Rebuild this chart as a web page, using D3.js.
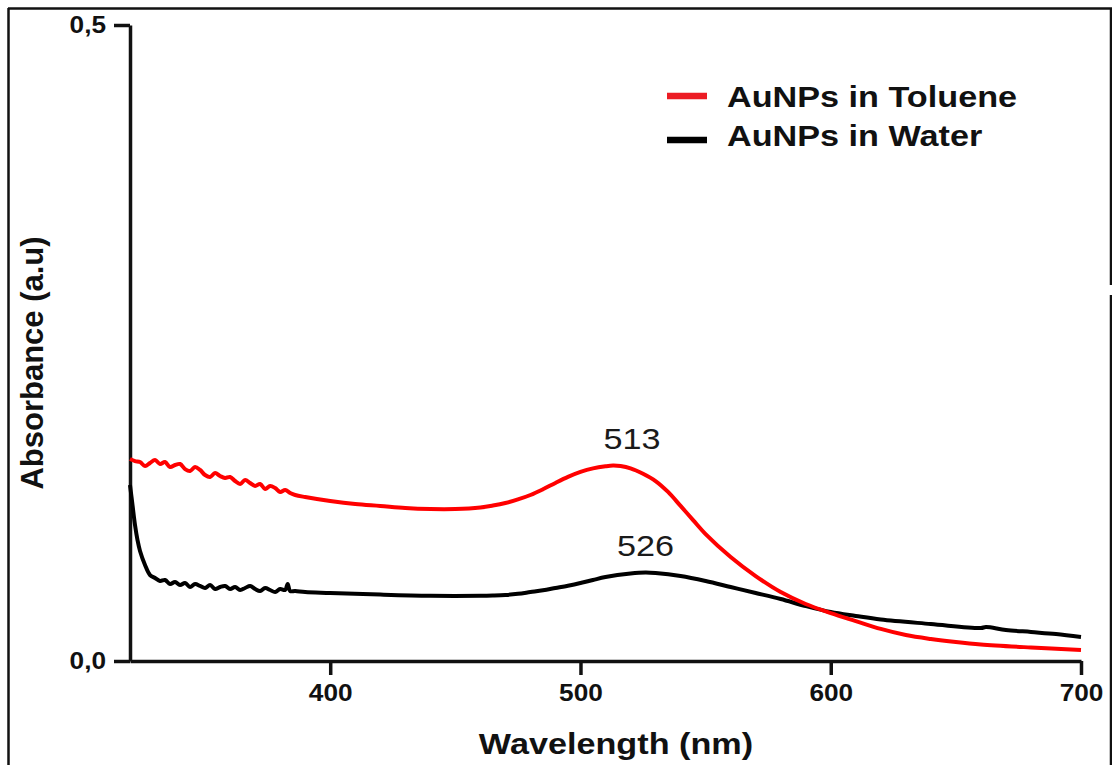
<!DOCTYPE html>
<html>
<head>
<meta charset="utf-8">
<script src="https://cdn.jsdelivr.net/npm/d3@7"></script>
<style>
  body { margin: 0; background: #fff; }
  text { font-family: "Liberation Sans", Arial, sans-serif; }
</style>
</head>
<body>
<div id="chart"></div>
<script>
// wavelength (nm) and absorbance for each sample
const tolueneNm = [320, 322, 324, 326, 328, 330, 332, 334, 336, 338, 340, 342, 344, 346, 348, 350,
    352, 354, 356, 358, 360, 362, 364, 366, 368, 370, 372, 374, 376, 378, 380, 382, 384, 386, 390,
    400, 410, 420, 430, 440, 450, 460, 465, 470, 475, 480, 485, 490, 495, 500, 505, 510, 513, 516,
    520, 525, 530, 535, 540, 545, 550, 560, 570, 580, 590, 600, 610, 620, 630, 640, 650, 660, 680, 700];
const tolueneAbs = [0.1588, 0.1572, 0.1564, 0.1533, 0.1557, 0.1580, 0.1549, 0.1564, 0.1525, 0.1541,
    0.1549, 0.1509, 0.1494, 0.1525, 0.1502, 0.1462, 0.1447, 0.1478, 0.1454, 0.1439, 0.1447, 0.1415,
    0.1392, 0.1423, 0.1399, 0.1376, 0.1392, 0.1352, 0.1376, 0.1360, 0.1329, 0.1344, 0.1321, 0.1305,
    0.1289, 0.1258, 0.1234, 0.1219, 0.1203, 0.1195, 0.1195, 0.1207, 0.1222, 0.1242, 0.1270, 0.1305,
    0.1350, 0.1400, 0.1447, 0.1486, 0.1514, 0.1531, 0.1537, 0.1533, 0.1515, 0.1472, 0.1415, 0.1329,
    0.1219, 0.1108, 0.0998, 0.0818, 0.0668, 0.0542, 0.0448, 0.0377, 0.0314, 0.0252, 0.0204, 0.0173,
    0.0149, 0.0130, 0.0106, 0.0086];

const waterNm = [320, 321, 322, 323, 324, 326, 328, 330, 332, 334, 336, 338, 340, 342, 344, 346, 348,
    350, 352, 354, 356, 358, 360, 362, 364, 366, 368, 370, 372, 374, 376, 378, 380, 382, 383, 384,
    386, 390, 400, 420, 440, 460, 465, 470, 475, 480, 485, 490, 495, 500, 505, 510, 520, 526, 530,
    540, 550, 560, 570, 580, 590, 600, 610, 620, 640, 660, 662, 670, 680, 690, 700];
const waterAbs = [0.1384, 0.1226, 0.1069, 0.0951, 0.0865, 0.0755, 0.0676, 0.0653, 0.0629, 0.0637,
    0.0605, 0.0621, 0.0597, 0.0613, 0.0582, 0.0605, 0.0590, 0.0574, 0.0597, 0.0566, 0.0582, 0.0590,
    0.0566, 0.0582, 0.0558, 0.0574, 0.0590, 0.0566, 0.0550, 0.0574, 0.0558, 0.0542, 0.0566, 0.0558,
    0.0605, 0.0550, 0.0550, 0.0542, 0.0535, 0.0522, 0.0513, 0.0513, 0.0515, 0.0519, 0.0528, 0.0542,
    0.0556, 0.0574, 0.0592, 0.0613, 0.0637, 0.0660, 0.0688, 0.0696, 0.0692, 0.0668, 0.0629, 0.0582,
    0.0535, 0.0487, 0.0432, 0.0385, 0.0354, 0.0326, 0.0291, 0.0259, 0.0267, 0.0244, 0.0228, 0.0212,
    0.0189];

const seriesNames = ["AuNPs in Toluene", "AuNPs in Water"];
const seriesColors = ["#ff0000", "#000000"];
const legendColors = ["#ec1c24", "#000000"];

const peakNm = [513, 526];
const peakAbs = [0.1537, 0.0696];
const peakLabels = ["513", "526"];

const xTicks = [400, 500, 600, 700];
const yTicks = [0, 0.5];

// svg size and plot area
let svgWidth = 1112;
let svgHeight = 765;
let stretch = 1.14;   // the source image is a bit wider than tall

var svg = d3.select("#chart")
    .append("svg")
    .attr("width", svgWidth)
    .attr("height", svgHeight);

svg.append("rect")
    .attr("width", svgWidth)
    .attr("height", svgHeight)
    .attr("fill", "#fff");

// outer frame (left, top, right with a small gap)
var frame = svg.append("g")
    .attr("stroke", "#111")
    .attr("stroke-width", 2.5);
frame.append("line").attr("x1", 8.5).attr("x2", 8.5).attr("y1", 8).attr("y2", svgHeight);
frame.append("line").attr("x1", 8).attr("x2", 1112).attr("y1", 8.5).attr("y2", 8.5);
frame.append("line").attr("x1", 1111).attr("x2", 1111).attr("y1", 8).attr("y2", 285);
frame.append("line").attr("x1", 1111).attr("x2", 1111).attr("y1", 295).attr("y2", svgHeight);

// scales
var xScale = d3.scaleLinear()
    .domain([320, 700])
    .range([130, 1081]);

var yScale = d3.scaleLinear()
    .domain([0, 0.5])
    .range([661, 25]);

// axes
var bottomAxis = d3.axisBottom(xScale)
    .tickValues(xTicks)
    .tickSize(14)
    .tickSizeOuter(0)
    .tickPadding(10);

var leftAxis = d3.axisLeft(yScale)
    .tickValues(yTicks)
    .tickSize(16)
    .tickSizeOuter(0)
    .tickPadding(8)
    .tickFormat(d => d3.format(".1f")(d).replace(".", ","));

var xAxis = svg.append("g")
    .attr("transform", `translate(0, ${yScale(0)})`)
    .call(bottomAxis);

var yAxis = svg.append("g")
    .attr("transform", `translate(${xScale(320)}, 0)`)
    .call(leftAxis);

[xAxis, yAxis].forEach(function(ax) {
    ax.selectAll("path, line")
        .attr("stroke", "#111")
        .attr("stroke-width", 3.5);
    ax.selectAll("text")
        .classed("stretch", true)
        .attr("fill", "#111")
        .attr("font-size", "23px")
        .attr("font-weight", "bold");
});

// axis titles
svg.append("text")
    .classed("stretch", true)
    .attr("x", 616)
    .attr("y", 754)
    .attr("text-anchor", "middle")
    .attr("font-size", "30px")
    .attr("font-weight", "bold")
    .attr("fill", "#111")
    .text("Wavelength (nm)");

svg.append("text")
    .attr("transform", "translate(43, 363) rotate(-90)")
    .attr("text-anchor", "middle")
    .attr("font-size", "31px")
    .attr("font-weight", "bold")
    .attr("fill", "#111")
    .text("Absorbance (a.u)");

// spectra
var line = d3.line()
    .x(d => xScale(d[0]))
    .y(d => yScale(d[1]))
    .curve(d3.curveCatmullRom.alpha(0.5));

var spectra = [
    d3.zip(tolueneNm, tolueneAbs),
    d3.zip(waterNm, waterAbs)
];

// water drawn first so toluene sits on top where they cross
[1, 0].forEach(function(i) {
    svg.append("path")
        .datum(spectra[i])
        .attr("d", line)
        .attr("fill", "none")
        .attr("stroke", seriesColors[i])
        .attr("stroke-width", 4)
        .attr("stroke-linejoin", "round");
});

// peak labels
var labelDx = [19, 0];
svg.selectAll(".peak")
    .data(peakNm)
    .enter()
    .append("text")
    .classed("stretch", true)
    .attr("x", (d, i) => xScale(d) + labelDx[i])
    .attr("y", (d, i) => yScale(peakAbs[i]) - 16)
    .attr("text-anchor", "middle")
    .attr("font-size", "30px")
    .attr("fill", "#1a1a1a")
    .text((d, i) => peakLabels[i]);

// legend
var legend = svg.append("g");
seriesNames.forEach(function(name, i) {
    legend.append("line")
        .attr("x1", 667)
        .attr("x2", 707)
        .attr("y1", 96 + i * 44)
        .attr("y2", 96 + i * 44)
        .attr("stroke", legendColors[i])
        .attr("stroke-width", 6.5);
    legend.append("text")
        .classed("stretch", true)
        .attr("x", 727)
        .attr("y", 107 + i * 39)
        .attr("font-size", "30px")
        .attr("font-weight", "bold")
        .attr("fill", "#111")
        .text(name);
});

// widen the horizontal texts a little, like the source picture
svg.selectAll("text.stretch").each(function() {
    var w = this.getComputedTextLength();
    d3.select(this)
        .attr("textLength", w * stretch)
        .attr("lengthAdjust", "spacingAndGlyphs");
});
</script>
</body>
</html>
